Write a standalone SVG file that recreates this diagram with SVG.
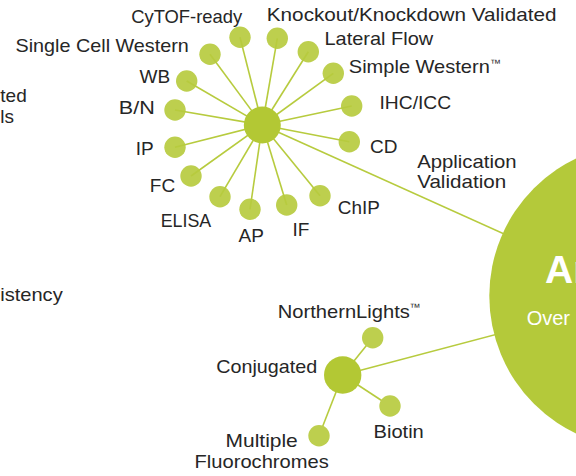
<svg xmlns="http://www.w3.org/2000/svg" width="576" height="476" viewBox="0 0 576 476">
<style>
.lbl{font-family:"Liberation Sans",Arial,sans-serif;font-size:19px;fill:#262626}
.tm{font-family:"Liberation Sans",Arial,sans-serif;font-size:11px;fill:#262626}
.ln{stroke:#b7cb3e;stroke-width:1.6;fill:none}
.sm{fill:#bdcf4e}
.hub{fill:#b3c834}
.big{fill:#b4c93a}
.wt{font-family:"Liberation Sans",Arial,sans-serif;fill:#ffffff}
</style>
<rect width="576" height="476" fill="#ffffff"/>

<g id="edge-labels-left">
<text class="lbl" x="0.3" y="101.7">ted</text>
<text class="lbl" x="0.3" y="122.7">ls</text>
<text class="lbl" x="0.2" y="300.7" textLength="62.5" lengthAdjust="spacingAndGlyphs">istency</text>
</g>

<g id="connectors">
<line class="ln" x1="262.3" y1="125" x2="641.7" y2="296"/>
<line class="ln" x1="342.7" y1="375" x2="641.7" y2="296"/>
<line class="ln" x1="342.7" y1="375" x2="372.7" y2="337.7"/>
<line class="ln" x1="342.7" y1="375" x2="390" y2="406"/>
<line class="ln" x1="342.7" y1="375" x2="319" y2="435.7"/>
</g>

<g id="node-antibodies">
<circle class="big" cx="641.7" cy="296" r="152.4"/>
<text class="wt" x="545" y="283" font-size="39" font-weight="bold">An</text>
<text class="wt" x="526.7" y="325" font-size="20">Over</text>
</g>

<g id="small-nodes">
<g id="node-cytof"><circle class="sm" cx="240" cy="37.3" r="10.7"/><text class="lbl" x="131.2" y="22.7" textLength="111" lengthAdjust="spacingAndGlyphs">CyTOF-ready</text></g>
<g id="node-knockout"><circle class="sm" cx="277.3" cy="38.3" r="10.7"/><text class="lbl" x="266.8" y="20.7" textLength="289.7" lengthAdjust="spacingAndGlyphs">Knockout/Knockdown Validated</text></g>
<g id="node-lateral-flow"><circle class="sm" cx="308.3" cy="51.7" r="10.7"/><text class="lbl" x="324.5" y="45" textLength="108.7" lengthAdjust="spacingAndGlyphs">Lateral Flow</text></g>
<g id="node-simple-western"><circle class="sm" cx="333.3" cy="73.3" r="10.7"/><text class="lbl" x="348.8" y="73.3" textLength="141" lengthAdjust="spacingAndGlyphs">Simple Western</text><text class="tm" x="490" y="67.2">™</text></g>
<g id="node-ihc-icc"><circle class="sm" cx="351.7" cy="106" r="10.7"/><text class="lbl" x="379.5" y="109" textLength="71.7" lengthAdjust="spacingAndGlyphs">IHC/ICC</text></g>
<g id="node-cd"><circle class="sm" cx="349.3" cy="141.7" r="10.7"/><text class="lbl" x="370" y="153.3">CD</text></g>
<g id="node-chip"><circle class="sm" cx="320" cy="195.7" r="10.7"/><text class="lbl" x="337.8" y="214" textLength="42" lengthAdjust="spacingAndGlyphs">ChIP</text></g>
<g id="node-if"><circle class="sm" cx="286.7" cy="205" r="10.7"/><text class="lbl" x="292.5" y="236">IF</text></g>
<g id="node-ap"><circle class="sm" cx="250" cy="209.3" r="10.7"/><text class="lbl" x="238.5" y="241.7">AP</text></g>
<g id="node-elisa"><circle class="sm" cx="220" cy="196.7" r="10.7"/><text class="lbl" x="160.7" y="226.7" textLength="50.5" lengthAdjust="spacingAndGlyphs">ELISA</text></g>
<g id="node-fc"><circle class="sm" cx="191" cy="176" r="10.7"/><text class="lbl" x="149.8" y="191.7">FC</text></g>
<g id="node-ip"><circle class="sm" cx="175" cy="147.3" r="10.7"/><text class="lbl" x="135.7" y="155">IP</text></g>
<g id="node-bn"><circle class="sm" cx="175" cy="110" r="10.7"/><text class="lbl" x="118.8" y="114.3" textLength="36" lengthAdjust="spacingAndGlyphs">B/N</text></g>
<g id="node-wb"><circle class="sm" cx="186.7" cy="81" r="10.7"/><text class="lbl" x="139.5" y="82.7">WB</text></g>
<g id="node-single-cell-western"><circle class="sm" cx="210" cy="54.3" r="10.7"/><text class="lbl" x="15.5" y="51.7" textLength="173.3" lengthAdjust="spacingAndGlyphs">Single Cell Western</text></g>
</g>

<g id="connectors-radial">
<line class="ln" x1="262.3" y1="125" x2="240" y2="37.3"/>
<line class="ln" x1="262.3" y1="125" x2="277.3" y2="38.3"/>
<line class="ln" x1="262.3" y1="125" x2="308.3" y2="51.7"/>
<line class="ln" x1="262.3" y1="125" x2="333.3" y2="73.3"/>
<line class="ln" x1="262.3" y1="125" x2="351.7" y2="106"/>
<line class="ln" x1="262.3" y1="125" x2="349.3" y2="141.7"/>
<line class="ln" x1="262.3" y1="125" x2="320" y2="195.7"/>
<line class="ln" x1="262.3" y1="125" x2="286.7" y2="205"/>
<line class="ln" x1="262.3" y1="125" x2="250" y2="209.3"/>
<line class="ln" x1="262.3" y1="125" x2="220" y2="196.7"/>
<line class="ln" x1="262.3" y1="125" x2="191" y2="176"/>
<line class="ln" x1="262.3" y1="125" x2="175" y2="147.3"/>
<line class="ln" x1="262.3" y1="125" x2="175" y2="110"/>
<line class="ln" x1="262.3" y1="125" x2="186.7" y2="81"/>
<line class="ln" x1="262.3" y1="125" x2="210" y2="54.3"/>
</g>

<g id="node-application-validation">
<circle class="hub" cx="262.3" cy="125" r="18.5"/>
<text class="lbl" x="417.2" y="167.7" textLength="99.3" lengthAdjust="spacingAndGlyphs">Application</text>
<text class="lbl" x="417.2" y="188.3" textLength="89" lengthAdjust="spacingAndGlyphs">Validation</text>
</g>

<g id="node-conjugated">
<circle class="hub" cx="342.7" cy="375" r="18.7"/>
<text class="lbl" x="216.2" y="373.3" textLength="101" lengthAdjust="spacingAndGlyphs">Conjugated</text>
</g>
<g id="node-northernlights">
<circle class="sm" cx="372.7" cy="337.7" r="10.7"/>
<text class="lbl" x="277.8" y="318.3" textLength="132" lengthAdjust="spacingAndGlyphs">NorthernLights</text>
<text class="tm" x="409.5" y="310.6">™</text>
</g>
<g id="node-biotin">
<circle class="sm" cx="390" cy="406" r="10.7"/>
<text class="lbl" x="373.5" y="438.3" textLength="50.3" lengthAdjust="spacingAndGlyphs">Biotin</text>
</g>
<g id="node-multiple-fluorochromes">
<circle class="sm" cx="319" cy="435.7" r="10.7"/>
<text class="lbl" x="225.5" y="446.7" textLength="72.3" lengthAdjust="spacingAndGlyphs">Multiple</text>
<text class="lbl" x="194.5" y="468.3" textLength="134.3" lengthAdjust="spacingAndGlyphs">Fluorochromes</text>
</g>
</svg>
